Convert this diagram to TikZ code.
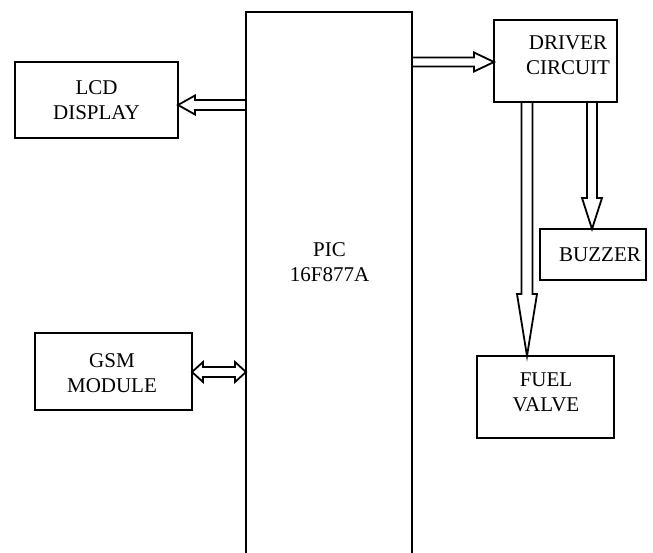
\documentclass[tikz,border=0pt]{standalone}
\usepackage{fontspec}
\setmainfont{Liberation Serif}
\usetikzlibrary{calc}
\tikzset{
  box/.style={draw, line width=1.9pt, inner sep=0pt, outer sep=0pt, font=\fontsize{21}{25}\selectfont, align=center},
  lbl/.style={inner sep=0pt, font=\fontsize{21}{25}\selectfont, align=center},
  fat/.style={draw, line width=1.8pt, line join=miter}
}
\newcommand\fatarr[5]{%
  \coordinate (fA) at (#1);
  \coordinate (fB) at (#2);
  \coordinate (fH) at ($(fB)!#5!(fA)$);
  \draw[fat] ($(fA)!#3!90:(fB)$) -- ($(fH)!#3!90:(fB)$) -- ($(fH)!#4!90:(fB)$) -- (fB)
     -- ($(fH)!#4!-90:(fB)$) -- ($(fH)!#3!-90:(fB)$) -- ($(fA)!#3!-90:(fB)$) -- cycle;
}
\begin{document}
\begin{tikzpicture}[x=1pt,y=-1pt]
\useasboundingbox (0,0) rectangle (653,553);
\clip (0,0) rectangle (653,553);
% boxes
\node[box, minimum width=166pt, minimum height=558pt] (pic) at (329,291) {};
\node[lbl] (pict) at (329.5,262.5) {PIC\\16F877A};
\node[box, minimum width=163pt, minimum height=76pt] (lcd) at (96.5,100) {LCD\\DISPLAY};
\node[box, minimum width=123pt, minimum height=82pt] (drv) at (555.5,61) {};
\node[lbl] (drvt) at (568,55) {DRIVER\\CIRCUIT};
\node[box, minimum width=106pt, minimum height=51pt] (buz) at (593,254.5) {};
\node[lbl] (buzt) at (600,255) {BUZZER};
\node[box, minimum width=137pt, minimum height=82pt] (fuel) at (545.5,397) {};
\node[lbl] (fuelt) at (546,392) {FUEL\\VALVE};
\node[box, minimum width=157pt, minimum height=77pt] (gsm) at (113.5,371.5) {};
\node[lbl] (gsmt) at (112,373) {GSM\\MODULE};
% connectors
\coordinate (lcdin) at ([yshift=-5pt]lcd.east);
\fatarr{pic.west |- lcdin}{lcdin}{5pt}{9.5pt}{17pt}
\coordinate (drvin) at ([yshift=-1pt]drv.west);
\fatarr{pic.east |- drvin}{drvin}{4.5pt}{9.5pt}{20pt}
\coordinate (buzin) at ([xshift=-1pt]buz.north);
\fatarr{drv.south -| buzin}{buzin}{5pt}{10pt}{31pt}
\coordinate (fuelin) at ([xshift=-18.5pt]fuel.north);
\fatarr{drv.south -| fuelin}{fuelin}{5.5pt}{10pt}{62pt}
% GSM double arrow
\coordinate (gA) at ([yshift=-0.5pt]gsm.east);
\coordinate (gB) at (pic.west |- gA);
\coordinate (gH1) at ($(gA)!11pt!(gB)$);
\coordinate (gH2) at ($(gB)!11pt!(gA)$);
\draw[fat] (gA) -- ($(gH1)!10pt!90:(gB)$) -- ($(gH1)!5pt!90:(gB)$) -- ($(gH2)!5pt!-90:(gA)$)
  -- ($(gH2)!10pt!-90:(gA)$) -- (gB) -- ($(gH2)!10pt!90:(gA)$) -- ($(gH2)!5pt!90:(gA)$)
  -- ($(gH1)!5pt!-90:(gB)$) -- ($(gH1)!10pt!-90:(gB)$) -- cycle;
\end{tikzpicture}
\end{document}
